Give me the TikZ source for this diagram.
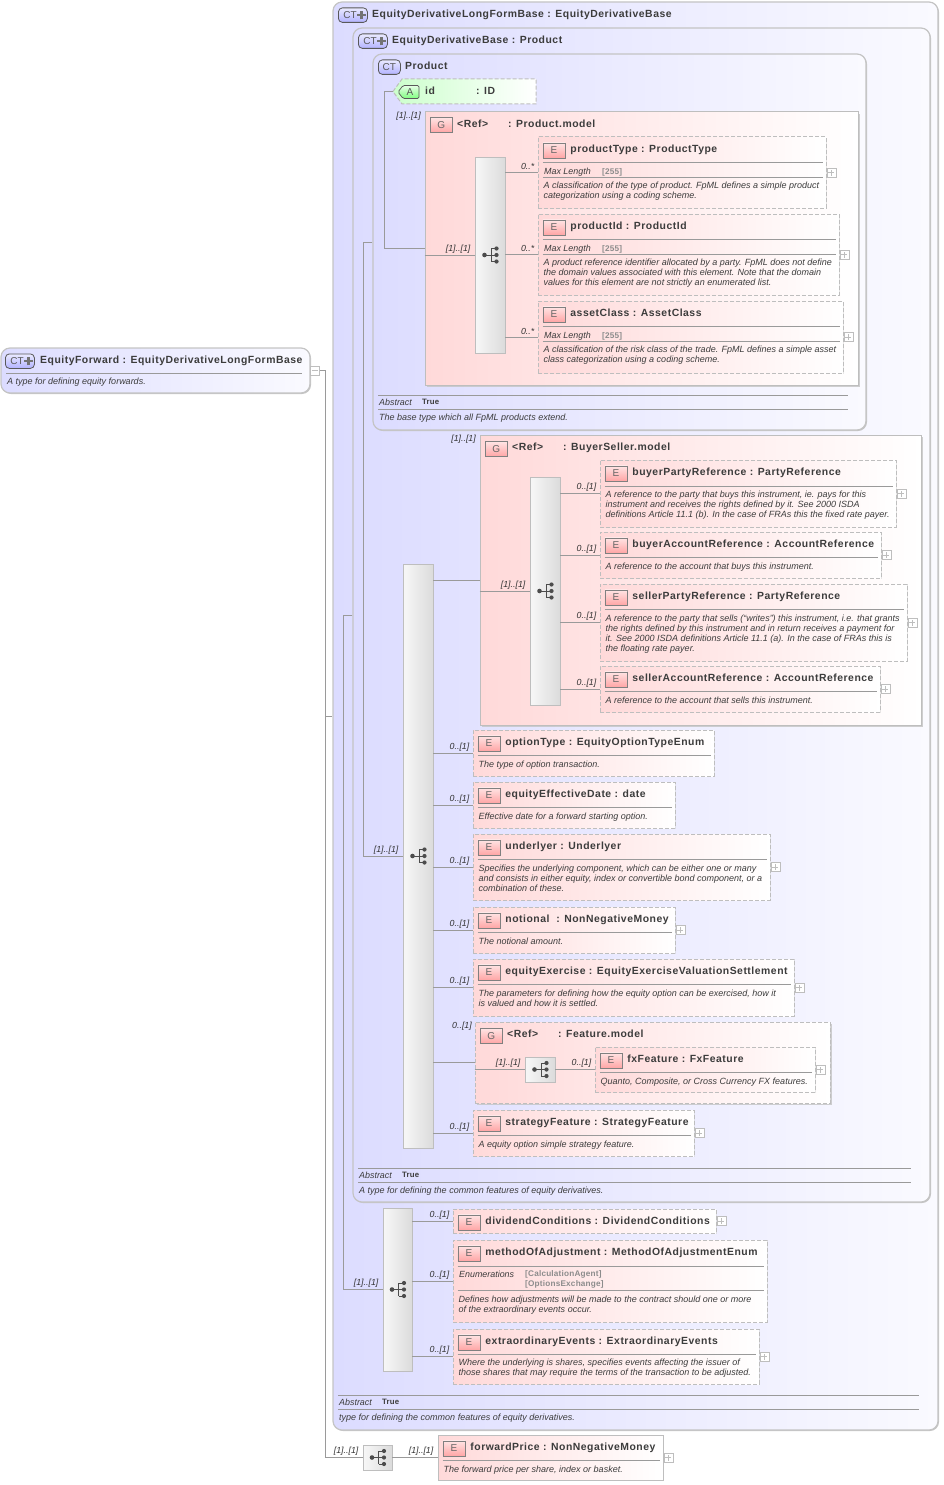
\documentclass[tikz,border=0pt]{standalone}
\usepackage{fontspec}
\setmainfont{Liberation Sans}
\newfontfamily\titlefont[LetterSpace=5]{Liberation Sans}
\newfontfamily\valuefont[LetterSpace=2.5]{Liberation Sans}
\usetikzlibrary{fit,shadows}
\definecolor{ctleft}{HTML}{DCDCFF}
\definecolor{ctright}{HTML}{FAFAFF}
\definecolor{elleft}{HTML}{FFD9D9}
\definecolor{edgegrey}{HTML}{BEBEBE}
\definecolor{wiregrey}{HTML}{9A9A9A}
\definecolor{inkgrey}{HTML}{3C3C3C}
\definecolor{shadegrey}{HTML}{C4C4C4}
\tikzset{
	x=1pt,y=-1pt,
	conn/.style={draw=wiregrey,line width=.8pt},
	rulegrey/.style={draw=wiregrey,line width=.7pt},
	ctbox/.style={draw=shadegrey,line width=1.2pt,rounded corners=9pt,left color=ctleft,right color=ctright,inner sep=0pt,drop shadow={shadow xshift=1pt,shadow yshift=-1pt,fill=shadegrey,opacity=1}},
	rootbox/.style={ctbox},
	elembase/.style={draw=edgegrey,line width=1pt,dash pattern=on 4pt off 2pt,left color=elleft,right color=white,inner sep=0pt},
	elembox/.style={elembase,drop shadow={shadow xshift=1pt,shadow yshift=-1pt,fill=shadegrey,opacity=.45}},
	groupbox/.style={elembase,drop shadow={shadow xshift=2pt,shadow yshift=-2pt,fill=shadegrey,opacity=.8}},
	reqgroup/.style={groupbox,solid},
	seqbox/.style={draw=edgegrey,line width=.9pt,left color=white!97!black,right color=white!86!black,inner sep=0pt,drop shadow={shadow xshift=1pt,shadow yshift=-1pt,fill=shadegrey,opacity=.8}},
	badge/.style={draw=black!50,line width=.7pt,top color=elleft!70,bottom color=red!35,minimum width=22pt,minimum height=15pt,inner sep=0pt,text=black!60,font=\fontsize{10}{10}\selectfont},
	ctbadge/.style={draw=black!65,line width=.8pt,rounded corners=4pt,top color=ctleft!60,bottom color=blue!30,minimum height=14.5pt,inner sep=0pt,text=black!65,font=\fontsize{10}{10}\selectfont},
	plusbox/.style={draw=edgegrey,line width=.6pt,fill=white,minimum size=9pt,inner sep=0pt},
	titletext/.style={anchor=base west,inner sep=0pt,text=inkgrey,font=\titlefont\bfseries\fontsize{10.4}{11}\selectfont},
	desctext/.style={inner sep=0pt,align=left,text=inkgrey,font=\itshape\fontsize{9}{10}\selectfont},
	occlabel/.style={inner sep=0pt,text=black!80,font=\itshape\fontsize{8.8}{10}\selectfont},
	facettext/.style={anchor=base west,inner sep=0pt,text=inkgrey,font=\itshape\fontsize{8.9}{10}\selectfont},
	valuetext/.style={inner sep=0pt,align=left,text=black!45,font=\valuefont\bfseries\fontsize{8.2}{10}\selectfont},
	truetext/.style={anchor=base west,inner sep=0pt,text=inkgrey,font=\valuefont\bfseries\fontsize{7.8}{10}\selectfont},
	seqicon/.pic={
		\draw[black!70,line width=.8pt] (-5.5,0) -- (1,0) (1,-6.5) -- (1,6.5) (1,-6.5) -- (6.5,-6.5) (1,0) -- (6.5,0) (1,6.5) -- (6.5,6.5);
		\fill[black!70] (-5.5,0) circle (2.3pt) (6.5,-6.5) circle (2.1pt) (6.5,0) circle (2.1pt) (6.5,6.5) circle (2.1pt);
	},
}
\newcommand{\elem}[7][elembox]{
	\node[#1,fit={(#3,#4)(#5,#6)}] (#2) {};
	\node[badge,anchor=north west] (#2-b) at ([shift={(5,6)}]#2.north west) {E};
	\node[titletext] (#2-t) at ([shift={(5,-6)}]#2-b.south east) {#7};
}
\newcommand{\elemrule}[2]{\draw[rulegrey] ([shift={(5,#2)}]#1.north west) -- ([shift={(-4,#2)}]#1.north east);}
\newcommand{\elemdesc}[3]{\node[desctext,anchor=north west] (#1-d) at ([shift={(6,#2-2.5)}]#1.north west) {\rule{0pt}{6.5pt}#3};}
\newcommand{\expander}[1]{
	\node[plusbox,anchor=west] (#1-x) at (#1.east) {};
	\draw[edgegrey,line width=.6pt] ([xshift=-3pt]#1-x.center) -- ([xshift=3pt]#1-x.center) ([yshift=-3pt]#1-x.center) -- ([yshift=3pt]#1-x.center);
}
\newcommand{\occ}[3][3]{\node[occlabel,anchor=east] (#2-o) at ([shift={(-#1,-6)}]#2.west) {#3};}
\newcommand{\ctfoot}[5]{
	\draw[rulegrey] (#2,#4) -- (#3,#4);
	\node[facettext] (#1-a) at (#2+1,#4+10) {Abstract};
	\node[truetext] (#1-v) at (#2+44,#4+9.5) {True};
	\draw[rulegrey] (#2,#4+14.5) -- (#3,#4+14.5);
	\node[desctext,anchor=base west] (#1-d) at (#2+1,#4+25.5) {#5};
}
\newcommand{\fatplus}[1]{\draw[black!55,line width=2.4pt] ([xshift=-10.5pt]#1.east) -- ([xshift=-2pt]#1.east) ([xshift=-6.25pt,yshift=-4.25pt]#1.east) -- ([xshift=-6.25pt,yshift=4.25pt]#1.east);}
\newcommand{\ctplus}{\makebox[29pt][l]{\kern5pt CT}}
\begin{document}
\begin{tikzpicture}
	\useasboundingbox (0,0) rectangle (943,1485);

	\node[ctbox,fit={(333,2)(938,1430)}] (ctLong) {};
	\node[ctbadge,anchor=north west,minimum width=29pt] (ctLong-b) at (338,7.5) {\ctplus};
	\fatplus{ctLong-b}
	\node[titletext] (ctLong-t) at (372,17.5) {EquityDerivativeLongFormBase : EquityDerivativeBase};

	\node[ctbox,fit={(353,28)(930,1202)}] (ctBase) {};
	\node[ctbadge,anchor=north west,minimum width=29pt] (ctBase-b) at (358,33.5) {\ctplus};
	\fatplus{ctBase-b}
	\node[titletext] (ctBase-t) at (392,43.5) {EquityDerivativeBase : Product};

	\node[ctbox,fit={(373,54)(866,430)}] (ctProduct) {};
	\node[ctbadge,anchor=north west,minimum width=22pt] (ctProduct-b) at (378,59.5) {CT};
	\node[titletext] (ctProduct-t) at (405,69.5) {Product};

	\draw[edgegrey,line width=1pt,dash pattern=on 4pt off 2pt,left color=green!20,right color=white] (393,91.5) -- (402,79) -- (536,79) -- (536,104) -- (402,104) -- cycle;
	\coordinate (idTip) at (393,91.5);
	\draw[black!65,line width=.7pt,top color=green!10,bottom color=green!50!white,rounded corners=1.5pt] (398,92) -- (403,85.5) -- (419,85.5) -- (419,98.5) -- (403,98.5) -- cycle;
	\node[inner sep=0pt,text=black!65,font=\fontsize{10}{10}\selectfont] (idBadge) at (410,92) {A};
	\node[titletext] (idText) at (425,94.5) {\makebox[51pt][l]{id}: ID};

	%product model
	\node[reqgroup,fit={(425,112)(858,385)}] (gpProduct) {};
	\node[badge,anchor=north west] (gpProduct-b) at (430,117) {G};
	\node[titletext] (gpProduct-t) at (457,127.5) {\makebox[51pt][l]{<Ref>}: Product.model};
	\node[occlabel,anchor=east] (gpProduct-o) at (421,116) {[1]..[1]};
	\node[seqbox,fit={(475,157)(505,353)}] (seqProduct) {};
	\pic at (seqProduct.center) {seqicon};
	\occ[4]{seqProduct}{[1]..[1]}

	\elem{productType}{538}{137}{826}{208}{productType : ProductType}
	\elemrule{productType}{26}
	\node[facettext] (productType-f) at (544,174.5) {Max Length};
	\node[valuetext,anchor=base west] (productType-v) at (602,174) {[255]};
	\elemrule{productType}{41}
	\elemdesc{productType}{48}{A classification of the type of product. FpML defines a simple product\\categorization using a coding scheme.}
	\expander{productType}
	\occ{productType}{0..*}

	\elem{productId}{538}{214}{839}{295}{productId : ProductId}
	\elemrule{productId}{26}
	\node[facettext] (productId-f) at (544,251.5) {Max Length};
	\node[valuetext,anchor=base west] (productId-v) at (602,251) {[255]};
	\elemrule{productId}{41}
	\elemdesc{productId}{48}{A product reference identifier allocated by a party. FpML does not define\\the domain values associated with this element. Note that the domain\\values for this element are not strictly an enumerated list.}
	\expander{productId}
	\occ{productId}{0..*}

	\elem{assetClass}{538}{301}{843}{373}{assetClass : AssetClass}
	\elemrule{assetClass}{26}
	\node[facettext] (assetClass-f) at (544,338.5) {Max Length};
	\node[valuetext,anchor=base west] (assetClass-v) at (602,338) {[255]};
	\elemrule{assetClass}{41}
	\elemdesc{assetClass}{48}{A classification of the risk class of the trade. FpML defines a simple asset\\class categorization using a coding scheme.}
	\expander{assetClass}
	\occ{assetClass}{0..*}

	\ctfoot{ctProduct}{378}{848}{395}{The base type which all FpML products extend.}

	%buyer seller model
	\node[reqgroup,fit={(480,435)(921,725)}] (gpBuyer) {};
	\node[badge,anchor=north west] (gpBuyer-b) at (485,441) {G};
	\node[titletext] (gpBuyer-t) at (512,450.5) {\makebox[51pt][l]{<Ref>}: BuyerSeller.model};
	\node[occlabel,anchor=east] (gpBuyer-o) at (476,439) {[1]..[1]};
	\node[seqbox,fit={(530,477)(560,705)}] (seqBuyer) {};
	\pic at (seqBuyer.center) {seqicon};
	\occ[4]{seqBuyer}{[1]..[1]}

	\elem{buyerParty}{600}{460}{896}{527}{buyerPartyReference : PartyReference}
	\elemrule{buyerParty}{27}
	\elemdesc{buyerParty}{34}{A reference to the party that buys this instrument, ie. pays for this\\instrument and receives the rights defined by it. See 2000 ISDA\\definitions Article 11.1 (b). In the case of FRAs this the fixed rate payer.}
	\expander{buyerParty}
	\occ{buyerParty}{0..[1]}

	\elem{buyerAccount}{600}{532}{881}{578}{buyerAccountReference : AccountReference}
	\elemrule{buyerAccount}{26}
	\elemdesc{buyerAccount}{34}{A reference to the account that buys this instrument.}
	\expander{buyerAccount}
	\occ{buyerAccount}{0..[1]}

	\elem{sellerParty}{600}{584}{907}{661}{sellerPartyReference : PartyReference}
	\elemrule{sellerParty}{26}
	\elemdesc{sellerParty}{34}{A reference to the party that sells (``writes'') this instrument, i.e. that grants\\the rights defined by this instrument and in return receives a payment for\\it. See 2000 ISDA definitions Article 11.1 (a). In the case of FRAs this is\\the floating rate payer.}
	\expander{sellerParty}
	\occ{sellerParty}{0..[1]}

	\elem{sellerAccount}{600}{666}{880}{712}{sellerAccountReference : AccountReference}
	\elemrule{sellerAccount}{26}
	\elemdesc{sellerAccount}{34}{A reference to the account that sells this instrument.}
	\expander{sellerAccount}
	\occ{sellerAccount}{0..[1]}

	%equity derivative base sequence
	\node[seqbox,fit={(403,564)(433,1148)}] (seqBase) {};
	\pic at (seqBase.center) {seqicon};
	\occ[4]{seqBase}{[1]..[1]}

	\elem{optionType}{473}{730}{714}{776}{optionType : EquityOptionTypeEnum}
	\elemrule{optionType}{26}
	\elemdesc{optionType}{34}{The type of option transaction.}
	\occ{optionType}{0..[1]}

	\elem{effectiveDate}{473}{782}{675}{828}{equityEffectiveDate : date}
	\elemrule{effectiveDate}{26}
	\elemdesc{effectiveDate}{34}{Effective date for a forward starting option.}
	\occ{effectiveDate}{0..[1]}

	\elem{underlyer}{473}{834}{770}{900}{underlyer : Underlyer}
	\elemrule{underlyer}{26}
	\elemdesc{underlyer}{34}{Specifies the underlying component, which can be either one or many\\and consists in either equity, index or convertible bond component, or a\\combination of these.}
	\expander{underlyer}
	\occ{underlyer}{0..[1]}

	\elem{notional}{473}{907}{675}{953}{notional\ \ : NonNegativeMoney}
	\elemrule{notional}{26}
	\elemdesc{notional}{34}{The notional amount.}
	\expander{notional}
	\occ{notional}{0..[1]}

	\elem{equityExercise}{473}{959}{794}{1016}{equityExercise : EquityExerciseValuationSettlement}
	\elemrule{equityExercise}{26}
	\elemdesc{equityExercise}{34}{The parameters for defining how the equity option can be exercised, how it\\is valued and how it is settled.}
	\expander{equityExercise}
	\occ{equityExercise}{0..[1]}

	\node[groupbox,fit={(475,1022)(830,1103)}] (gpFeature) {};
	\node[badge,anchor=north west] (gpFeature-b) at (480,1028) {G};
	\node[titletext] (gpFeature-t) at (507,1037.5) {\makebox[51pt][l]{<Ref>}: Feature.model};
	\node[occlabel,anchor=east] (gpFeature-o) at (472,1026) {0..[1]};
	\node[seqbox,fit={(525,1057)(555,1082)}] (seqFeature) {};
	\pic at (seqFeature.center) {seqicon};
	\occ[4]{seqFeature}{[1]..[1]}

	\elem{fxFeature}{595}{1047}{815}{1092}{fxFeature : FxFeature}
	\elemrule{fxFeature}{26}
	\elemdesc{fxFeature}{34}{Quanto, Composite, or Cross Currency FX features.}
	\expander{fxFeature}
	\occ{fxFeature}{0..[1]}

	\elem{strategyFeature}{473}{1110}{694}{1156}{strategyFeature : StrategyFeature}
	\elemrule{strategyFeature}{26}
	\elemdesc{strategyFeature}{34}{A equity option simple strategy feature.}
	\expander{strategyFeature}
	\occ{strategyFeature}{0..[1]}

	\ctfoot{ctBase}{358}{911}{1168}{A type for defining the common features of equity derivatives.}

	%long form sequence
	\node[seqbox,fit={(383,1208)(412,1371)}] (seqLong) {};
	\pic at (seqLong.center) {seqicon};
	\occ[4]{seqLong}{[1]..[1]}

	\elem{dividend}{453}{1209}{716}{1233}{dividendConditions : DividendConditions}
	\expander{dividend}
	\occ{dividend}{0..[1]}

	\elem{adjustment}{453}{1240}{767}{1322}{methodOfAdjustment : MethodOfAdjustmentEnum}
	\elemrule{adjustment}{27}
	\node[facettext] (adjustment-f) at (459,1277) {Enumerations};
	\node[valuetext,anchor=north west] (adjustment-v) at (525,1270) {[CalculationAgent]\\{}[OptionsExchange]};
	\elemrule{adjustment}{51}
	\elemdesc{adjustment}{59}{Defines how adjustments will be made to the contract should one or more\\of the extraordinary events occur.}
	\occ{adjustment}{0..[1]}

	\elem{extraordinary}{453}{1329}{759}{1384}{extraordinaryEvents : ExtraordinaryEvents}
	\elemrule{extraordinary}{26}
	\elemdesc{extraordinary}{33}{Where the underlying is shares, specifies events affecting the issuer of\\those shares that may require the terms of the transaction to be adjusted.}
	\expander{extraordinary}
	\occ{extraordinary}{0..[1]}

	\ctfoot{ctLong}{338}{919}{1395}{type for defining the common features of equity derivatives.}

	%root
	\node[rootbox,fit={(1,348)(310,393)}] (root) {};
	\node[ctbadge,anchor=north west,minimum width=29pt] (root-b) at (5,353.5) {\ctplus};
	\fatplus{root-b}
	\node[titletext] (root-t) at (40,363.5) {EquityForward : EquityDerivativeLongFormBase};
	\draw[rulegrey] (6,373) -- (302,373);
	\node[desctext,anchor=base west] (root-d) at (7,384) {A type for defining equity forwards.};
	\node[plusbox,anchor=west] (root-x) at (310,370.5) {};
	\draw[edgegrey,line width=.6pt] ([xshift=-3pt]root-x.center) -- ([xshift=3pt]root-x.center);

	\node[seqbox,fit={(363,1445)(392,1470)}] (seqRoot) {};
	\pic at (seqRoot.center) {seqicon};
	\occ[4]{seqRoot}{[1]..[1]}

	\elem[elembox,solid]{forwardPrice}{438}{1435}{663}{1480}{forwardPrice : NonNegativeMoney}
	\elemrule{forwardPrice}{26}
	\elemdesc{forwardPrice}{34}{The forward price per share, index or basket.}
	\expander{forwardPrice}
	\occ[4]{forwardPrice}{[1]..[1]}

	%connectors
	\coordinate (busRoot) at (325,716);
	\coordinate (busLong) at (343,716);
	\coordinate (busBase) at (363,716);
	\coordinate (busProduct) at (384,150);
	\draw[conn] (root-x.east) -| (busRoot |- seqRoot.west) -- (seqRoot.west);
	\draw[conn] (busRoot) -- (ctLong.west);
	\draw[conn] (ctBase.west) -| (busLong |- seqLong.west) -- (seqLong.west);
	\draw[conn] (ctProduct.west) -| (busBase |- seqBase.west) -- (seqBase.west);
	\draw[conn] (idTip) -| (busProduct |- gpProduct.west) -- (gpProduct.west);
	\draw[conn] (seqRoot.east) -- (forwardPrice.west -| seqRoot.east) -- (forwardPrice.west);
	\draw[conn] (gpProduct.west |- seqProduct.west) -- (seqProduct.west);
	\foreach \leaf in {productType,productId,assetClass} {
		\draw[conn] (seqProduct.east |- \leaf.west) -- (\leaf.west);
	}
	\draw[conn] (seqBase.east |- gpBuyer.west) -- (gpBuyer.west);
	\draw[conn] (gpBuyer.west |- seqBuyer.west) -- (seqBuyer.west);
	\foreach \leaf in {buyerParty,buyerAccount,sellerParty,sellerAccount} {
		\draw[conn] (seqBuyer.east |- \leaf.west) -- (\leaf.west);
	}
	\foreach \leaf in {optionType,effectiveDate,underlyer,notional,equityExercise,gpFeature,strategyFeature} {
		\draw[conn] (seqBase.east |- \leaf.west) -- (\leaf.west);
	}
	\draw[conn] (gpFeature.west |- seqFeature.west) -- (seqFeature.west);
	\draw[conn] (seqFeature.east) -- (fxFeature.west);
	\foreach \leaf in {dividend,adjustment,extraordinary} {
		\draw[conn] (seqLong.east |- \leaf.west) -- (\leaf.west);
	}
\end{tikzpicture}
\end{document}
